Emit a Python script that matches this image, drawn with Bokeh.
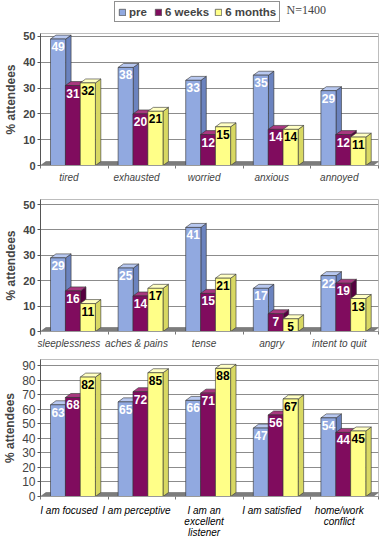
from bokeh.plotting import figure
from bokeh.layouts import column
from bokeh.models import (ColumnDataSource, Legend, LegendItem, Label, FixedTicker,
                          Range1d)
from bokeh.core.properties import value
from bokeh.embed import file_html
from bokeh.resources import INLINE

# ---- data ----
series_names = ["pre", "6 weeks", "6 months"]
n_note = "N=1400"

cats1 = ["tired", "exhausted", "worried", "anxious", "annoyed"]
pre1 = [49, 38, 33, 35, 29]
wk1 = [31, 20, 12, 14, 12]
mo1 = [32, 21, 15, 14, 11]

cats2 = ["sleeplessness", "aches & pains", "tense", "angry", "intent to quit"]
pre2 = [29, 25, 41, 17, 22]
wk2 = [16, 14, 15, 7, 19]
mo2 = [11, 17, 21, 5, 13]

cats3 = ["I am focused", "I am perceptive", "I am an\nexcellent\nlistener",
         "I am satisfied", "home/work\nconflict"]
pre3 = [63, 65, 66, 47, 54]
wk3 = [68, 72, 71, 56, 44]
mo3 = [82, 85, 88, 67, 45]

ticks1 = [0, 10, 20, 30, 40, 50]
ticks3 = [0, 10, 20, 30, 40, 50, 60, 70, 80, 90]

# ---- style ----
FRONT = ["#91a9e0", "#800c5e", "#ffff88"]
SIDE = ["#6b83bf", "#560040", "#d8d862"]
TOP = ["#b8c8f0", "#a8387f", "#ffffc4"]
LABEL_COL = ["white", "white", "black"]
OFFS = [-0.24, -0.02, 0.20]
BW = 0.224
LSHIFT = -0.08
W = 386
BL, BR = 36, 8
FONT = "Liberation Sans"
FONT_V = value(FONT)


def panel(cats, data, ymax, ticks, height, btop, bbot, bold_ticks, tick_size,
          show_labels=True):
    p = figure(width=W, height=height, x_range=Range1d(0, 5), y_range=Range1d(0, ymax),
               output_backend="svg", toolbar_location=None,
               min_border_left=BL, min_border_right=BR, min_border_top=btop,
               min_border_bottom=bbot)
    fw = W - BL - BR
    fh = height - btop - bbot
    dx = 5.5 / fw * 5
    dy = 4.0 / fh * ymax

    p.background_fill_color = "white"
    p.border_fill_color = "white"
    p.outline_line_color = "#bdbdbd"
    p.xgrid.grid_line_color = None
    p.ygrid.grid_line_color = "#8c8c8c"
    p.ygrid.ticker = FixedTicker(ticks=ticks)

    # floor of the 3D box
    p.patch(x=[0, 5 - dx, 5, dx], y=[0, 0, dy, dy], fill_color="#7c7c7c",
            line_color="#5a5a5a", line_width=0.5)

    for k, vals in enumerate(data):
        xc = [i + 0.5 + OFFS[k] for i in range(len(vals))]
        xl = [x - BW / 2 for x in xc]
        xr = [x + BW / 2 for x in xc]
        side_xs = [[r, r + dx, r + dx, r] for r in xr]
        side_ys = [[0, dy, v + dy, v] for v in vals]
        top_xs = [[l, r, r + dx, l + dx] for l, r in zip(xl, xr)]
        top_ys = [[v, v, v + dy, v + dy] for v in vals]
        p.patches(xs=side_xs, ys=side_ys, fill_color=SIDE[k], line_color="#333333",
                  line_width=0.6)
        p.patches(xs=top_xs, ys=top_ys, fill_color=TOP[k], line_color="#333333",
                  line_width=0.6)
        src = ColumnDataSource(dict(x=xc, top=vals, lab=[str(v) for v in vals]))
        p.vbar(x="x", top="top", width=BW, source=src, fill_color=FRONT[k],
               line_color="#333333", line_width=0.6)
        p.text(x="x", y="top", text="lab", source=src, text_align="center",
               text_baseline="top", y_offset=3, text_font_size="12px",
               text_font_style="bold", text_color=LABEL_COL[k], text_font=FONT_V)

    ya = p.yaxis[0]
    ya.ticker = FixedTicker(ticks=ticks)
    ya.axis_label = "% attendees"
    ya.axis_label_text_font = FONT
    ya.axis_label_text_font_style = "bold"
    ya.axis_label_text_font_size = "12px"
    ya.axis_label_standoff = 2
    ya.major_label_text_font = FONT
    ya.major_label_text_font_size = tick_size
    ya.major_label_text_font_style = "bold" if bold_ticks else "normal"
    ya.major_label_standoff = 2
    ya.major_tick_out = 3
    ya.major_tick_in = 0
    ya.minor_tick_line_color = None
    ya.axis_line_color = "#555555"
    ya.major_tick_line_color = "#555555"

    xa = p.xaxis[0]
    major = [i + 0.5 + LSHIFT for i in range(len(cats))] if show_labels else []
    xa.ticker = FixedTicker(ticks=major, minor_ticks=list(range(len(cats) + 1)))
    xa.major_label_overrides = {i + 0.5 + LSHIFT: c for i, c in enumerate(cats)}
    xa.major_label_text_font = FONT
    xa.major_label_text_font_style = "italic"
    xa.major_label_text_font_size = "10px"
    xa.major_label_standoff = 3
    xa.major_tick_line_color = None
    xa.major_tick_out = 0
    xa.major_tick_in = 0
    xa.minor_tick_out = 3
    xa.minor_tick_in = 0
    xa.minor_tick_line_color = "#777777"
    xa.axis_line_color = "#999999"
    return p


# ---- header with legend ----
HW = W - BL - BR
hdr = figure(width=W, height=26, x_range=Range1d(0, HW), y_range=Range1d(0, 26),
             output_backend="svg", toolbar_location=None, min_border=0,
             min_border_left=BL, min_border_right=BR,
             x_axis_location=None, y_axis_location=None)
hdr.grid.visible = False
hdr.outline_line_color = None
nan = float("nan")
proxies = [hdr.vbar(x=[nan], top=[nan], width=1, fill_color=FRONT[k],
                    line_color="#555555", line_width=0.8) for k in range(3)]
legend = Legend(items=[LegendItem(label=n, renderers=[r]) for n, r in zip(series_names, proxies)],
                orientation="horizontal", location=(110 - BL, 4),
                label_text_font=FONT, label_text_font_style="bold",
                label_text_font_size="11.5px", glyph_width=8, glyph_height=8,
                label_standoff=3, spacing=5, padding=3, margin=0, label_height=13,
                border_line_color="#222222", border_line_width=1.2,
                background_fill_color="white", background_fill_alpha=1)
hdr.add_layout(legend, "center")
hdr.add_layout(Label(x=282 - BL, y=17, x_units="screen", y_units="screen", text=n_note,
                     text_baseline="middle", text_font="Liberation Serif",
                     text_font_size="12px"))

p1 = panel(cats1, [pre1, wk1, mo1], 51.15, ticks1, 159, 7, 18, True, "11px")
p2 = panel(cats2, [pre2, wk2, mo2], 52, ticks1, 170, 14, 24, True, "11px")
p3 = panel(cats3, [pre3, wk3, mo3], 94.1, ticks3, 149, 4, 8, False, "12px",
           show_labels=False)

# category labels of the third panel (multi-line), on the same x scale
SH = 35
strip = figure(width=W, height=SH, x_range=p3.x_range, y_range=Range1d(0, SH),
               output_backend="svg", toolbar_location=None, min_border=0,
               min_border_left=BL, min_border_right=BR,
               x_axis_location=None, y_axis_location=None)
strip.grid.visible = False
strip.outline_line_color = None
strip.text(x=[i + 0.5 + LSHIFT for i in range(len(cats3))], y=[SH] * len(cats3),
           text=cats3, text_align="center", text_baseline="top", y_offset=0,
           text_font=FONT_V, text_font_style="italic", text_font_size="10px",
           text_line_height=1.0, text_color="black")

layout = column(hdr, p1, p2, p3, strip, spacing=0)
open("out.html", "w").write(file_html(layout, INLINE))
